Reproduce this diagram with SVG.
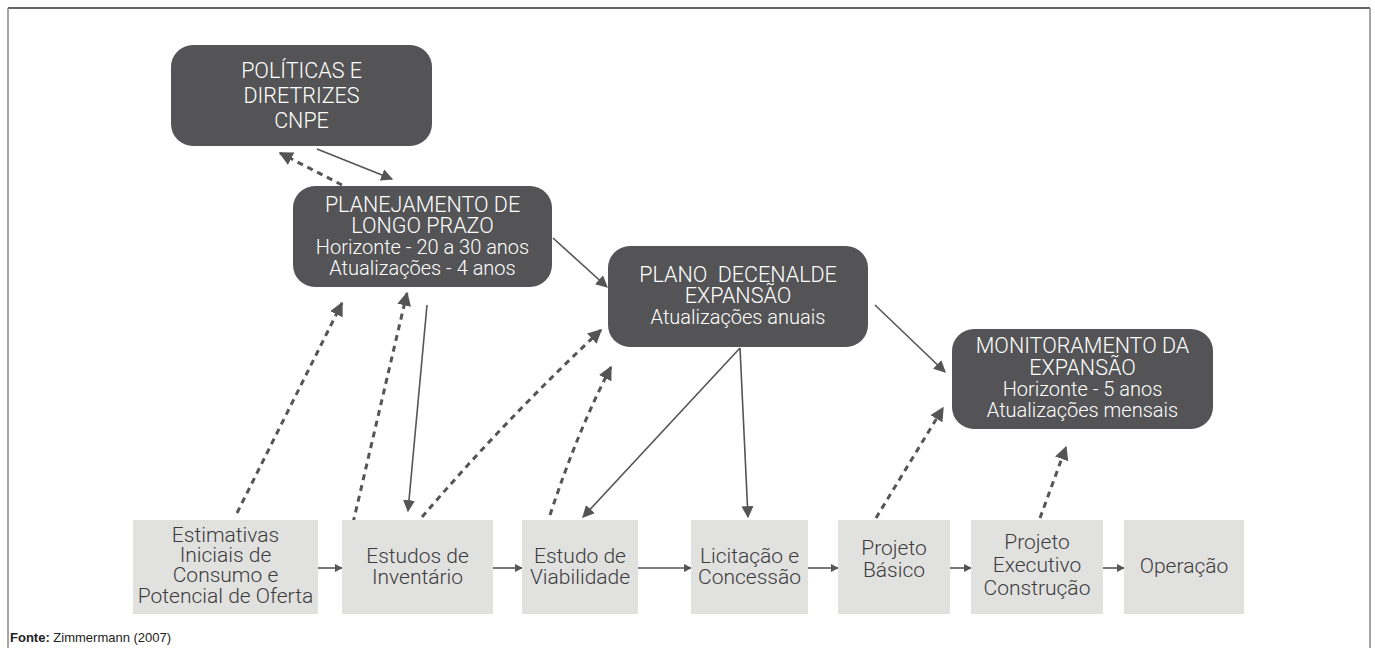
<svg xmlns="http://www.w3.org/2000/svg" width="1375" height="648" viewBox="0 0 1375 648">
<style>
.dk{fill:#545456}
.lt{fill:#e1e1e0}
.wt{fill:#ffffff;font-family:Roboto,"Liberation Sans",sans-serif;font-weight:300;font-size:20px;text-anchor:middle;white-space:pre}
.cap{font-size:21.5px}
.bt{fill:#3c3c3c;font-family:Roboto,"Liberation Sans",sans-serif;font-weight:300;font-size:21px;text-anchor:middle}
.sol{stroke:#555;stroke-width:1.6;fill:none}
.dsh{stroke:#555;stroke-width:3;stroke-dasharray:6 5;fill:none}
.ft{font-family:"Liberation Sans",Arial,sans-serif;font-size:13px;fill:#222}
</style>
<defs>
<marker id="ah" viewBox="0 0 10 10" refX="9" refY="5" markerWidth="8" markerHeight="8" markerUnits="userSpaceOnUse" orient="auto"><path d="M0,0 L10,5 L0,10 z" fill="#555"/></marker>
<marker id="ahs" viewBox="0 0 10 10" refX="9" refY="5" markerWidth="12" markerHeight="12" markerUnits="userSpaceOnUse" orient="auto"><path d="M0,0 L10,5 L0,10 z" fill="#555"/></marker>
<marker id="ahd" viewBox="0 0 10 10" refX="9" refY="5" markerWidth="14" markerHeight="14" markerUnits="userSpaceOnUse" orient="auto"><path d="M0,0 L10,5 L0,10 z" fill="#555"/></marker>
</defs>
<rect width="1375" height="648" fill="#fff"/>
<g id="frame">
<line x1="8" y1="8" x2="1370" y2="8" stroke="#333" stroke-width="1.5"/>
<line x1="8" y1="8" x2="8" y2="648" stroke="#888" stroke-width="1.5"/>
<line x1="1370" y1="8" x2="1370" y2="648" stroke="#888" stroke-width="1.5"/>
</g>
<g id="connectors">
<line class="dsh" x1="342" y1="185" x2="280" y2="153" marker-end="url(#ahd)"/>
<line class="sol" x1="317" y1="149" x2="392" y2="179" marker-end="url(#ahs)"/>
<line class="sol" x1="553" y1="238" x2="607" y2="287" marker-end="url(#ahs)"/>
<line class="dsh" x1="237" y1="513" x2="342" y2="303" marker-end="url(#ahd)"/>
<line class="dsh" x1="353" y1="523" x2="407" y2="293" marker-end="url(#ahd)"/>
<line class="sol" x1="427" y1="305" x2="408" y2="511" marker-end="url(#ahs)"/>
<path class="dsh" d="M422,517 Q505,420 601,330" marker-end="url(#ahd)"/>
<path class="dsh" d="M550,515 Q578,430 611,367" marker-end="url(#ahd)"/>
<line class="sol" x1="740" y1="348" x2="583" y2="517" marker-end="url(#ahs)"/>
<line class="sol" x1="740" y1="348" x2="748" y2="517" marker-end="url(#ahs)"/>
<line class="sol" x1="875" y1="305" x2="945" y2="372" marker-end="url(#ahs)"/>
<line class="dsh" x1="876" y1="518" x2="943" y2="408" marker-end="url(#ahd)"/>
<line class="dsh" x1="1040" y1="518" x2="1066" y2="447" marker-end="url(#ahd)"/>
<line class="sol" x1="318" y1="568" x2="342" y2="568" marker-end="url(#ah)"/>
<line class="sol" x1="493" y1="568" x2="522" y2="568" marker-end="url(#ah)"/>
<line class="sol" x1="638" y1="568" x2="691" y2="568" marker-end="url(#ah)"/>
<line class="sol" x1="808" y1="568" x2="838" y2="568" marker-end="url(#ah)"/>
<line class="sol" x1="950" y1="568" x2="971" y2="568" marker-end="url(#ah)"/>
<line class="sol" x1="1103" y1="568" x2="1124" y2="568" marker-end="url(#ah)"/>
</g>
<g id="n-politicas">
<rect class="dk" x="171" y="45" width="261" height="101" rx="22"/>
<text class="wt cap" x="301.5" y="78">POLÍTICAS E</text>
<text class="wt cap" x="301.5" y="103">DIRETRIZES</text>
<text class="wt cap" x="301.5" y="128">CNPE</text>
</g>
<g id="n-longo">
<rect class="dk" x="293" y="186" width="259" height="101" rx="22"/>
<text class="wt cap" x="422.5" y="212">PLANEJAMENTO DE</text>
<text class="wt cap" x="422.5" y="233">LONGO PRAZO</text>
<text class="wt" x="422.5" y="254">Horizonte - 20 a 30 anos</text>
<text class="wt" x="422.5" y="275">Atualizações - 4 anos</text>
</g>
<g id="n-decenal">
<rect class="dk" x="608" y="246" width="260" height="101" rx="22"/>
<text class="wt cap" x="738" y="282">PLANO  DECENALDE</text>
<text class="wt cap" x="738" y="303">EXPANSÃO</text>
<text class="wt" x="738" y="324">Atualizações anuais</text>
</g>
<g id="n-monitoramento">
<rect class="dk" x="952" y="329" width="261" height="100" rx="22"/>
<text class="wt cap" x="1082.5" y="353">MONITORAMENTO DA</text>
<text class="wt cap" x="1082.5" y="375">EXPANSÃO</text>
<text class="wt" x="1082.5" y="396">Horizonte - 5 anos</text>
<text class="wt" x="1082.5" y="417">Atualizações mensais</text>
</g>
<g id="b-estimativas">
<rect class="lt" x="133" y="520" width="185" height="94"/>
<text class="bt" x="225.5" y="542">Estimativas</text>
<text class="bt" x="225.5" y="562">Iniciais de</text>
<text class="bt" x="225.5" y="582">Consumo e</text>
<text class="bt" x="225.5" y="603">Potencial de Oferta</text>
</g>
<g id="b-inventario">
<rect class="lt" x="342" y="520" width="151" height="94"/>
<text class="bt" x="417.5" y="563">Estudos de</text>
<text class="bt" x="417.5" y="584">Inventário</text>
</g>
<g id="b-viabilidade">
<rect class="lt" x="522" y="520" width="116" height="94"/>
<text class="bt" x="580" y="563">Estudo de</text>
<text class="bt" x="580" y="584">Viabilidade</text>
</g>
<g id="b-licitacao">
<rect class="lt" x="691" y="520" width="117" height="94"/>
<text class="bt" x="749.5" y="563">Licitação e</text>
<text class="bt" x="749.5" y="584">Concessão</text>
</g>
<g id="b-basico">
<rect class="lt" x="838" y="520" width="112" height="94"/>
<text class="bt" x="894" y="555">Projeto</text>
<text class="bt" x="894" y="577">Básico</text>
</g>
<g id="b-executivo">
<rect class="lt" x="971" y="520" width="132" height="94"/>
<text class="bt" x="1037" y="549">Projeto</text>
<text class="bt" x="1037" y="572">Executivo</text>
<text class="bt" x="1037" y="595">Construção</text>
</g>
<g id="b-operacao">
<rect class="lt" x="1124" y="520" width="120" height="94"/>
<text class="bt" x="1184" y="573">Operação</text>
</g>
<text class="ft" x="10" y="642"><tspan font-weight="bold">Fonte:</tspan> Zimmermann (2007)</text>
</svg>
